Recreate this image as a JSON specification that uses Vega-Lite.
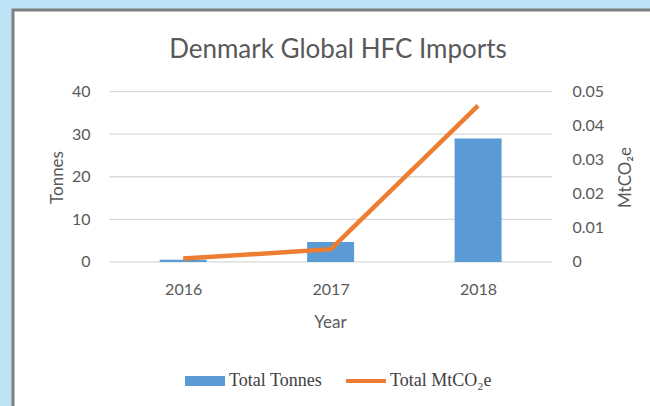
{
  "$schema": "https://vega.github.io/schema/vega-lite/v6.json",
  "width": 650,
  "height": 400,
  "autosize": {"type": "none"},
  "padding": {"left": 13, "top": 10, "right": 0, "bottom": 0},
  "background": "#BDE3F7",
  "view": {"fill": "white", "stroke": "#7F7F7F", "strokeWidth": 3},
  "title": {
    "text": "Denmark Global HFC Imports",
    "font": "Lato",
    "fontSize": 26,
    "fontWeight": "normal",
    "color": "#595959",
    "anchor": "middle",
    "offset": -53
  },
  "config": {
    "font": "Lato",
    "axis": {
      "labelFont": "Lato",
      "labelFontSize": 16,
      "labelColor": "#595959",
      "titleFont": "Lato",
      "titleFontSize": 17,
      "titleColor": "#595959",
      "titleFontWeight": "normal",
      "domain": false,
      "ticks": false,
      "grid": false
    }
  },
  "data": {
    "values": [
      {"Year": 2016, "Tonnes": 0.5, "MtCO2e": 0.001},
      {"Year": 2017, "Tonnes": 4.7, "MtCO2e": 0.0037},
      {"Year": 2018, "Tonnes": 29.0, "MtCO2e": 0.0459}
    ]
  },
  "layer": [
    {
      "layer": [
        {
          "data": {"values": [{"Gridline": 0}, {"Gridline": 10}, {"Gridline": 20}, {"Gridline": 30}, {"Gridline": 40}]},
          "mark": {"type": "rule", "stroke": "#D9D9D9", "strokeWidth": 1.3},
          "encoding": {
            "x": {"datum": 2015.5, "type": "quantitative", "scale": {"domain": [2014.88, 2019.22], "nice": false, "zero": false}},
            "x2": {"datum": 2018.5},
            "y": {"field": "Gridline", "type": "quantitative"}
          }
        },
        {
          "mark": {"type": "bar", "width": 47},
          "encoding": {
            "x": {
              "field": "Year",
              "type": "quantitative",
              "scale": {"domain": [2014.88, 2019.22], "nice": false, "zero": false},
              "axis": {
                "title": "Year",
                "values": [2016, 2017, 2018],
                "format": "d",
                "offset": -148,
                "labelPadding": 19,
                "labelFlush": false,
                "labelOverlap": false,
                "titleX": 317,
                "titleY": 52
              }
            },
            "y": {
              "field": "Tonnes",
              "type": "quantitative",
              "scale": {"domain": [-34.75, 59.15], "nice": false, "zero": false},
              "axis": {
                "title": "Tonnes",
                "orient": "left",
                "values": [0, 10, 20, 30, 40],
                "offset": -93,
                "labelPadding": 16,
                "titleX": -49,
                "titleY": 167,
                "titleBaseline": "middle"
              }
            },
            "color": {
              "datum": "Total Tonnes",
              "scale": {"domain": ["Total Tonnes", "Total MtCO₂e"], "range": ["#5B9BD5", "#ED7D31"]},
              "legend": {
                "title": null,
                "orient": "none",
                "legendX": 172,
                "legendY": 351,
                "direction": "horizontal",
                "padding": 0,
                "labelFont": "Liberation Serif",
                "labelFontSize": 18,
                "labelColor": "#404040",
                "symbolSize": 1600,
                "labelOffset": 4,
                "columnPadding": 24,
                "encode": {
                  "symbols": {
                    "update": {
                      "shape": {"signal": "datum.value === 'Total Tonnes' ? 'M-1,-0.25H1V0.25H-1Z' : 'M-1,-0.1H1V0.1H-1Z'"},
                      "fill": {"signal": "datum.value === 'Total Tonnes' ? '#5B9BD5' : '#ED7D31'"},
                      "strokeWidth": {"value": 0},
                      "opacity": {"value": 1}
                    }
                  }
                }
              }
            }
          }
        }
      ]
    },
    {
      "mark": {"type": "line", "strokeWidth": 4.5},
      "encoding": {
        "x": {"field": "Year", "type": "quantitative"},
        "y": {
          "field": "MtCO2e",
          "type": "quantitative",
          "scale": {"domain": [-0.0434375, 0.0739375], "nice": false, "zero": false},
          "axis": {
            "title": "MtCO₂e",
            "orient": "right",
            "values": [0, 0.01, 0.02, 0.03, 0.04, 0.05],
            "format": "~g",
            "offset": -109,
            "labelPadding": 18,
            "titleAngle": 270,
            "titleX": 71,
            "titleY": 167,
            "titleBaseline": "middle"
          }
        },
        "color": {"datum": "Total MtCO₂e"}
      }
    }
  ],
  "resolve": {"scale": {"y": "independent"}}
}
